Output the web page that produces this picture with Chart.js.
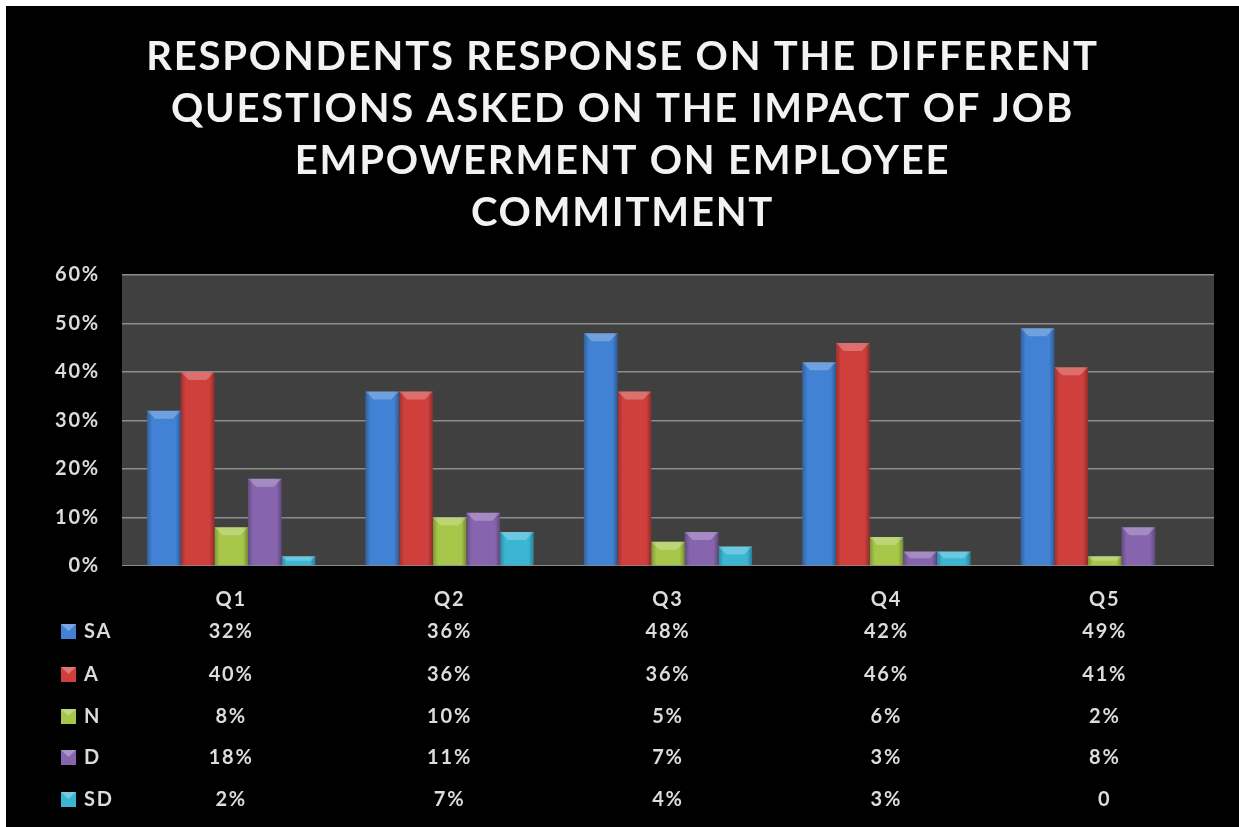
<!DOCTYPE html>
<html>
<head>
<meta charset="utf-8">
<script src="https://cdn.jsdelivr.net/npm/chart.js@4/dist/chart.umd.min.js"></script>
<style>
  html, body { margin: 0; padding: 0; background: #fff; }
  #panel { position: absolute; left: 6px; top: 6px; width: 1233px; height: 821px; background: #000; }
  #respChart { display: block; }
</style>
</head>
<body>
<div id="panel"><canvas id="respChart" width="1233" height="821"></canvas></div>
<script>
// Chart data
const categories = ['Q1', 'Q2', 'Q3', 'Q4', 'Q5'];
const seriesNames = ['SA', 'A', 'N', 'D', 'SD'];
const saValues = [32, 36, 48, 42, 49];
const aValues = [40, 36, 36, 46, 41];
const nValues = [8, 10, 5, 6, 2];
const dValues = [18, 11, 7, 3, 8];
const sdValues = [2, 7, 4, 3, 0];
const yTicks = [0, 10, 20, 30, 40, 50, 60];

const seriesColors = ['#4182d4', '#cf403c', '#a6c74a', '#8765ae', '#3ab6d3'];
const labelFont = 'Lato, "Open Sans", sans-serif';

// Wider letter spacing like the original slide text
const spacing = {
  id: 'spacing',
  beforeDraw(chart) {
    chart.ctx.letterSpacing = '1.8px';
  }
};

// Plot background behind the bars
const plotBackground = {
  id: 'plotBackground',
  beforeDraw(chart) {
    const { ctx, chartArea } = chart;
    ctx.save();
    ctx.fillStyle = '#404040';
    ctx.fillRect(chartArea.left, chartArea.top, chartArea.right - chartArea.left, chartArea.bottom - chartArea.top);
    ctx.restore();
  }
};

// Bevel look on each bar (top facet and darker edges)
const barBevel = {
  id: 'barBevel',
  afterDatasetsDraw(chart) {
    const ctx = chart.ctx;
    chart.data.datasets.forEach((ds, i) => {
      chart.getDatasetMeta(i).data.forEach(bar => {
        const h = bar.base - bar.y;
        if (h <= 0) return;
        const left = bar.x - bar.width / 2;
        const right = bar.x + bar.width / 2;
        const b = Math.min(8, h / 2);
        ctx.save();
        // side shading
        const g = ctx.createLinearGradient(left, 0, right, 0);
        g.addColorStop(0, 'rgba(0,0,0,0.25)');
        g.addColorStop(0.15, 'rgba(0,0,0,0)');
        g.addColorStop(0.85, 'rgba(0,0,0,0)');
        g.addColorStop(1, 'rgba(0,0,0,0.3)');
        ctx.fillStyle = g;
        ctx.fillRect(left, bar.y, bar.width, h);
        // top facet
        ctx.beginPath();
        ctx.moveTo(left, bar.y);
        ctx.lineTo(right, bar.y);
        ctx.lineTo(right - b, bar.y + b);
        ctx.lineTo(left + b, bar.y + b);
        ctx.closePath();
        ctx.fillStyle = 'rgba(255,255,255,0.25)';
        ctx.fill();
        ctx.restore();
      });
    });
  }
};

// Data table under the axis
const dataTable = {
  id: 'dataTable',
  afterDraw(chart) {
    const { ctx, chartArea } = chart;
    const xScale = chart.scales.x;
    const rowOffsets = [66, 109, 151, 192, 234];
    ctx.save();
    ctx.font = 'bold 20px ' + labelFont;
    ctx.textBaseline = 'middle';
    chart.data.datasets.forEach((ds, i) => {
      const y = chartArea.bottom + rowOffsets[i];
      // legend swatch
      ctx.fillStyle = ds.backgroundColor;
      ctx.fillRect(55, y - 8, 15, 15);
      ctx.fillStyle = 'rgba(255,255,255,0.3)';
      ctx.beginPath();
      ctx.moveTo(55, y - 8);
      ctx.lineTo(70, y - 8);
      ctx.lineTo(62.5, y - 1);
      ctx.closePath();
      ctx.fill();
      ctx.fillStyle = '#dcdcdc';
      ctx.textAlign = 'left';
      ctx.fillText(ds.label, 78, y);
      // values
      ctx.textAlign = 'center';
      ds.data.forEach((v, j) => {
        ctx.fillText(v === 0 ? '0' : v + '%', xScale.getPixelForValue(j), y);
      });
    });
    ctx.restore();
  }
};

const allValues = [saValues, aValues, nValues, dValues, sdValues];

const ctx = document.getElementById('respChart').getContext('2d');
new Chart(ctx, {
  type: 'bar',
  data: {
    labels: categories,
    datasets: seriesNames.map((name, i) => ({
      label: name,
      data: allValues[i],
      backgroundColor: seriesColors[i],
      borderWidth: 0,
      categoryPercentage: 0.77,
      barPercentage: 1.0
    }))
  },
  options: {
    responsive: false,
    animation: false,
    layout: { padding: { left: 25, right: 25, top: 0, bottom: 0 } },
    plugins: {
      legend: { display: false },
      tooltip: { enabled: false },
      title: {
        display: true,
        text: [
          'RESPONDENTS RESPONSE ON THE DIFFERENT',
          'QUESTIONS ASKED ON THE IMPACT OF JOB',
          'EMPOWERMENT ON EMPLOYEE',
          'COMMITMENT'
        ],
        color: '#f2f2f2',
        font: { family: labelFont, size: 40, weight: 'bold', lineHeight: 1.3 },
        padding: { top: 25, bottom: 36 }
      }
    },
    scales: {
      x: {
        grid: { display: false },
        border: { display: true, color: '#000' },
        ticks: {
          color: '#dcdcdc',
          padding: 14,
          font: { family: labelFont, size: 20, weight: 'bold' }
        },
        afterFit(scale) { scale.height = 261; }
      },
      y: {
        min: 0,
        max: 60,
        afterBuildTicks(scale) { scale.ticks = yTicks.map(v => ({ value: v })); },
        grid: { color: '#8c8c8c', lineWidth: 1.5, drawTicks: false },
        border: { display: false },
        ticks: {
          color: '#dcdcdc',
          padding: 22,
          font: { family: labelFont, size: 20, weight: 'bold' },
          callback: v => v + '%'
        },
        afterFit(scale) { scale.width = 91; }
      }
    }
  },
  plugins: [spacing, plotBackground, barBevel, dataTable]
});
</script>
</body>
</html>
